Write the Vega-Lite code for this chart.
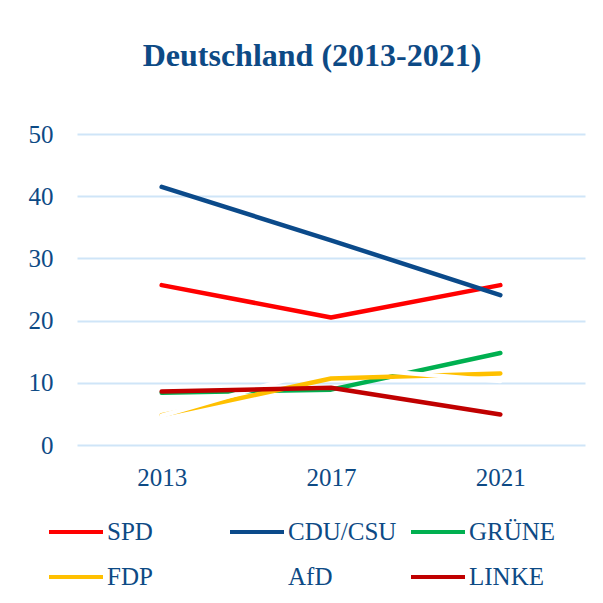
{
  "$schema": "https://vega.github.io/schema/vega-lite/v6.json",
  "autosize": {"type": "none"},
  "width": 508,
  "height": 311,
  "padding": {"left": 77, "top": 134, "right": 18, "bottom": 158},
  "background": "white",
  "title": {
    "text": "Deutschland (2013-2021)",
    "font": "Liberation Serif",
    "fontSize": 32,
    "fontWeight": "bold",
    "color": "#0D4A85",
    "anchor": "middle",
    "baseline": "alphabetic",
    "dx": -19,
    "offset": 24
  },
  "data": {
    "values": [
      {"Jahr": "2013", "Partei": "SPD", "Wert": 25.7},
      {"Jahr": "2017", "Partei": "SPD", "Wert": 20.5},
      {"Jahr": "2021", "Partei": "SPD", "Wert": 25.7},
      {"Jahr": "2013", "Partei": "CDU/CSU", "Wert": 41.5},
      {"Jahr": "2017", "Partei": "CDU/CSU", "Wert": 32.9},
      {"Jahr": "2021", "Partei": "CDU/CSU", "Wert": 24.1},
      {"Jahr": "2013", "Partei": "GRÜNE", "Wert": 8.4},
      {"Jahr": "2017", "Partei": "GRÜNE", "Wert": 8.9},
      {"Jahr": "2021", "Partei": "GRÜNE", "Wert": 14.8},
      {"Jahr": "2013", "Partei": "FDP", "Wert": 4.8},
      {"Jahr": "2017", "Partei": "FDP", "Wert": 10.7},
      {"Jahr": "2021", "Partei": "FDP", "Wert": 11.5},
      {"Jahr": "2013", "Partei": "AfD", "Wert": 4.7},
      {"Jahr": "2017", "Partei": "AfD", "Wert": 12.6},
      {"Jahr": "2021", "Partei": "AfD", "Wert": 10.3},
      {"Jahr": "2013", "Partei": "LINKE", "Wert": 8.6},
      {"Jahr": "2017", "Partei": "LINKE", "Wert": 9.2},
      {"Jahr": "2021", "Partei": "LINKE", "Wert": 4.9}
    ]
  },
  "mark": {"type": "line", "strokeWidth": 4.5, "strokeCap": "round", "strokeJoin": "round"},
  "encoding": {
    "x": {
      "field": "Jahr",
      "type": "ordinal",
      "scale": {"type": "point", "padding": 0.5},
      "axis": {
        "title": null,
        "labelAngle": 0,
        "domain": false,
        "ticks": false,
        "grid": false,
        "labelFont": "Liberation Serif",
        "labelFontSize": 25,
        "labelColor": "#0D4A85",
        "labelPadding": 20
      }
    },
    "y": {
      "field": "Wert",
      "type": "quantitative",
      "scale": {"domain": [0, 50], "nice": false, "zero": true},
      "axis": {
        "title": null,
        "values": [0, 10, 20, 30, 40, 50],
        "domain": false,
        "ticks": false,
        "grid": true,
        "gridColor": "#CFE5F8",
        "gridWidth": 2,
        "labelFont": "Liberation Serif",
        "labelFontSize": 25,
        "labelColor": "#0D4A85",
        "labelPadding": 24
      }
    },
    "color": {
      "field": "Partei",
      "type": "nominal",
      "scale": {
        "domain": ["SPD", "CDU/CSU", "GRÜNE", "FDP", "AfD", "LINKE"],
        "range": ["#FF0000", "#0B4A8A", "#00B050", "#FFC000", "#FFFFFF", "#C00000"]
      },
      "legend": {
        "title": null,
        "orient": "none",
        "legendX": -30,
        "legendY": 369,
        "direction": "horizontal",
        "columns": 3,
        "gridAlign": "all",
        "columnPadding": 6,
        "rowPadding": 3,
        "padding": 0,
        "symbolType": "stroke",
        "symbolSize": 2916,
        "symbolStrokeWidth": 4,
        "labelFont": "Liberation Serif",
        "labelFontSize": 25,
        "labelColor": "#0D4A85",
        "labelOffset": 2,
        "labelLimit": 300
      }
    }
  },
  "config": {"view": {"stroke": null}}
}
